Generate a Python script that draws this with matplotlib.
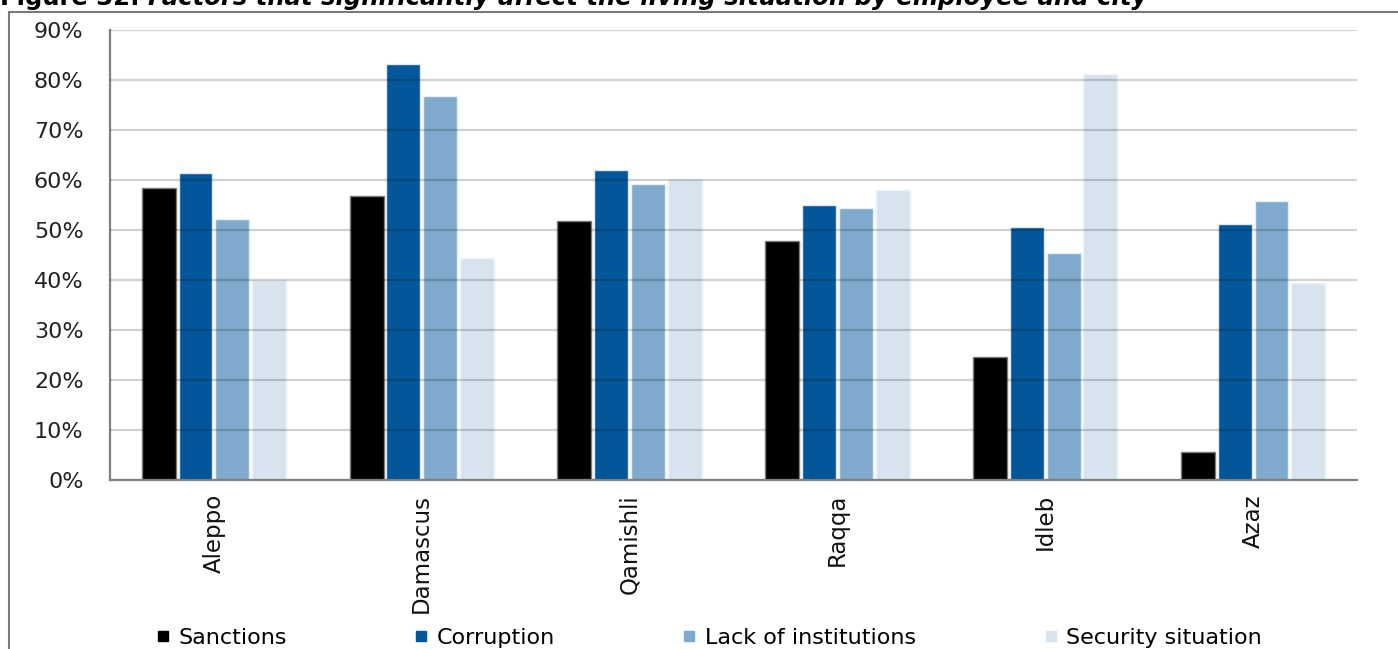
import numpy as np
import matplotlib
matplotlib.use('Agg')
import matplotlib.pyplot as plt
from matplotlib.lines import Line2D
from matplotlib.patches import Rectangle

plt.rcParams['font.family'] = ['DejaVu Sans']

cities = ["Aleppo", "Damascus", "Qamishli", "Raqqa", "Idleb", "Azaz"]
series_names = ["Sanctions", "Corruption", "Lack of institutions", "Security situation"]
sanctions = [58.5, 56.9, 51.8, 47.9, 24.6, 5.6]
corruption = [61.5, 83.3, 62.0, 55.1, 50.7, 51.3]
lack_inst = [52.2, 76.9, 59.2, 54.5, 45.4, 55.9]
security = [40.0, 44.5, 60.3, 58.1, 81.2, 39.5]
yticks = [0, 10, 20, 30, 40, 50, 60, 70, 80, 90]

colors = ["#000000", "#03569a", "#7faacd", "#d7e4ef"]
edges = ["#7a7a7a", "#dfe9f3", "#e6eef6", "#eef3f8"]

fig = plt.figure(figsize=(13.98, 6.49), dpi=100)
ax = fig.add_axes([110 / 1398, 1 - 480 / 649, 1247 / 1398, 450 / 649])

x = np.arange(len(cities))
slot = 0.177
width = 0.163
for i, vals in enumerate([sanctions, corruption, lack_inst, security]):
    ax.bar(x + (i - 1.5) * slot, vals, width, color=colors[i],
           edgecolor=edges[i], linewidth=1.0, zorder=2)

ax.set_xlim(-0.5, len(cities) - 0.5)
ax.set_ylim(0, 90)
ax.set_yticks(yticks)
ax.set_yticklabels([f"{t}%" for t in yticks], fontsize=16, color="#222222")
ax.set_xticks(x)
ax.set_xticklabels(cities, rotation=90, fontsize=16.5, color="#111111")
ax.tick_params(axis='y', length=0, pad=19)
ax.tick_params(axis='x', length=0, pad=10)

# gridlines drawn over the bars, semi-transparent like the original
ax.yaxis.grid(True, color="black", alpha=0.18, linewidth=1.6, zorder=3)
ax.set_axisbelow(False)
for s in ["top", "right"]:
    ax.spines[s].set_visible(False)
ax.spines["left"].set_color("#808080")
ax.spines["left"].set_linewidth(1.6)
ax.spines["bottom"].set_color("#808080")
ax.spines["bottom"].set_linewidth(1.6)
ax.spines["bottom"].set_zorder(4)

# legend at the bottom
handles = [Line2D([], [], marker='s', linestyle='none', markersize=7,
                  markerfacecolor=c, markeredgecolor=c) for c in colors]
leg = fig.legend(handles, series_names, loc='center left', ncol=4,
                 bbox_to_anchor=(136 / 1398, 1 - 638 / 649), frameon=False,
                 fontsize=16, handlelength=0.6, handletextpad=0.4,
                 columnspacing=5.75)

# outer frame around the figure panel
fig.patches.append(Rectangle((9 / 1398, -0.1), 1.2, 0.1 + 1 - 12 / 649,
                             transform=fig.transFigure, fill=False,
                             edgecolor="#7a7a7a", linewidth=1.5))

# title (cut off at the top, as in the source)
t1 = fig.text(0.0, 1 - 5 / 649, "Figure 32: ", fontsize=17.5, fontweight='bold',
              va='baseline', ha='left')
fig.canvas.draw()
bb = t1.get_window_extent()
fig.text(bb.x1 / fig.bbox.width, 1 - 5 / 649,
         "Factors that significantly affect the living situation by employee and city",
         fontsize=17.5, fontweight='bold', style='italic', va='baseline', ha='left')

fig.savefig("out.png", dpi=100)
